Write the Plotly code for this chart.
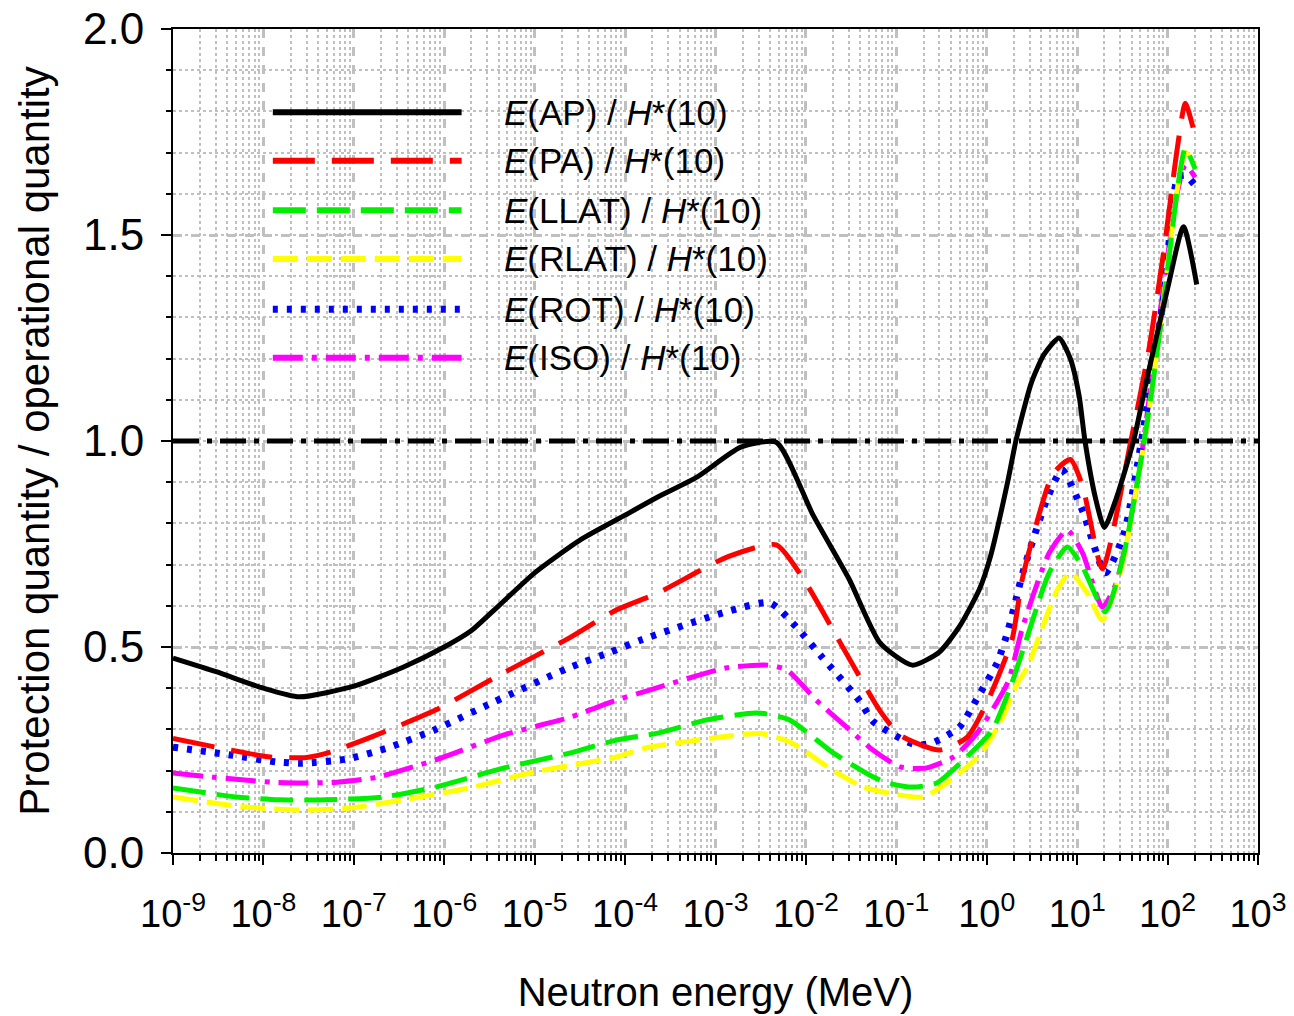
import numpy as np
import plotly.graph_objects as go

# ---------------- data ----------------
AP_E = [1e-9, 3e-9, 1e-8, 2.5e-8, 1e-7, 3.5e-7, 1e-6, 2e-6, 4e-6, 1e-5, 3.2e-5, 1e-4, 2.3e-4, 6.3e-4,
        1.9e-3, 4.7e-3, 1.2e-2, 3e-2, 6.6e-2, 0.15, 0.3, 0.5, 0.83, 1.1, 1.7, 2.1, 3.1, 4.3, 6.3, 8.4,
        10.5, 12.2, 16, 20, 27, 42, 59, 100, 150, 210]
AP_Y = [0.473, 0.44, 0.40, 0.379, 0.405, 0.451, 0.50, 0.54, 0.60, 0.68, 0.76, 0.82, 0.864, 0.913,
        0.985, 0.997, 0.82, 0.665, 0.51, 0.456, 0.488, 0.55, 0.64, 0.72, 0.90, 1.0, 1.14, 1.21, 1.25, 1.20,
        1.11, 1.0, 0.86, 0.79, 0.86, 1.0, 1.15, 1.37, 1.52, 1.38]

PA_E = [1e-9, 1.2e-8, 3e-8, 5.5e-8, 1.5e-7, 8e-7, 4.5e-6, 2.5e-5, 8e-5, 2.3e-4, 1.4e-3, 4.7e-3, 1e-2,
        2.4e-2, 6.6e-2, 0.11, 0.3, 0.6, 1.0, 1.9, 2.5, 5.4, 8.4, 11.5, 19, 38, 63, 92, 128, 157, 202]
PA_Y = [0.278, 0.233, 0.232, 0.245, 0.28, 0.347, 0.437, 0.524, 0.59, 0.631, 0.72, 0.748, 0.655,
        0.51, 0.345, 0.286, 0.25, 0.28, 0.364, 0.517, 0.67, 0.92, 0.955, 0.89, 0.69, 0.985, 1.23, 1.47,
        1.71, 1.82, 1.74]

LLAT_E = [1e-9, 5e-9, 1.5e-8, 5e-8, 2.1e-7, 8e-7, 4.5e-6, 2.5e-5, 8e-5, 2.3e-4, 8e-4, 2.9e-3, 6.6e-3,
          2e-2, 5.5e-2, 8e-2, 0.15, 0.28, 0.6, 1.15, 1.9, 2.8, 4.9, 7.8, 11.5, 20.5, 33, 60, 92, 130,
          157, 202]
LLAT_Y = [0.158, 0.136, 0.129, 0.129, 0.136, 0.16, 0.206, 0.243, 0.274, 0.291, 0.323, 0.34, 0.323,
          0.243, 0.185, 0.17, 0.16, 0.17, 0.233, 0.298, 0.413, 0.524, 0.68, 0.743, 0.694, 0.585, 0.728,
          1.05, 1.35, 1.62, 1.71, 1.66]

RLAT_E = [1e-9, 6e-9, 2.7e-8, 9e-8, 3.5e-7, 1.9e-6, 1e-5, 8e-5, 1.7e-4, 1.2e-3, 3.2e-3, 7e-3, 2e-2,
          4.3e-2, 8e-2, 0.2, 0.36, 0.8, 1.4, 2.2, 2.8, 6.0, 8.4, 13, 19, 31, 60, 92, 130, 157, 202]
RLAT_Y = [0.136, 0.112, 0.104, 0.109, 0.129, 0.158, 0.197, 0.233, 0.255, 0.282, 0.29, 0.267, 0.20,
          0.16, 0.146, 0.136, 0.17, 0.233, 0.315, 0.413, 0.45, 0.638, 0.68, 0.63, 0.565, 0.694, 1.05,
          1.36, 1.62, 1.70, 1.67]

ROT_E = [1e-9, 4.3e-9, 1.4e-8, 2.7e-8, 8.4e-8, 2.5e-7, 8e-7, 3.5e-6, 2.3e-5, 7e-5, 1.5e-4, 1.3e-3,
         4e-3, 7.8e-3, 1.5e-2, 4e-2, 5.5e-2, 0.12, 0.17, 0.25, 0.5, 0.8, 1.3, 1.7, 2.1, 2.5, 4.6, 6.8,
         11.5, 20.5, 33, 60, 92, 130, 157, 202]
ROT_Y = [0.257, 0.238, 0.221, 0.218, 0.228, 0.257, 0.30, 0.366, 0.448, 0.488, 0.517, 0.585,
         0.607, 0.549, 0.476, 0.367, 0.32, 0.274, 0.262, 0.267, 0.306, 0.379, 0.461, 0.536, 0.614, 0.68,
         0.857, 0.93, 0.83, 0.68, 0.776, 1.09, 1.36, 1.64, 1.645, 1.62]

ISO_E = [1e-9, 2.8e-9, 1.2e-8, 2.7e-8, 6.5e-8, 1.8e-7, 8e-7, 4.5e-6, 2.5e-5, 8e-5, 1.9e-4, 1.3e-3,
         3.8e-3, 6.2e-3, 1.3e-2, 2.8e-2, 5.5e-2, 0.11, 0.21, 0.43, 0.8, 1.7, 2.5, 4.9, 7.8, 11.5, 19,
         27, 47, 92, 130, 157, 202]
ISO_Y = [0.194, 0.184, 0.172, 0.17, 0.172, 0.184, 0.226, 0.286, 0.33, 0.371, 0.396, 0.449,
         0.456, 0.444, 0.371, 0.306, 0.25, 0.209, 0.206, 0.233, 0.294, 0.413, 0.549, 0.728, 0.784, 0.728,
         0.597, 0.655, 0.905, 1.39, 1.61, 1.67, 1.64]

X_TICKS = [1e-9, 1e-8, 1e-7, 1e-6, 1e-5, 1e-4, 1e-3, 1e-2, 1e-1, 1e0, 1e1, 1e2, 1e3]
X_TICKTEXT = ["10<sup>-9</sup>", "10<sup>-8</sup>", "10<sup>-7</sup>", "10<sup>-6</sup>", "10<sup>-5</sup>",
              "10<sup>-4</sup>", "10<sup>-3</sup>", "10<sup>-2</sup>", "10<sup>-1</sup>", "10<sup>0</sup>",
              "10<sup>1</sup>", "10<sup>2</sup>", "10<sup>3</sup>"]
Y_TICKS = [0.0, 0.5, 1.0, 1.5, 2.0]
Y_TICKTEXT = ["0.0", "0.5", "1.0", "1.5", "2.0"]
REF_LEVEL = 1.0

series = [
    ("<i>E</i>(AP) / <i>H</i>*(10)", AP_E, AP_Y, "#000000", "solid", 5),
    ("<i>E</i>(PA) / <i>H</i>*(10)", PA_E, PA_Y, "#ff0000", "42px,17px", 5),
    ("<i>E</i>(LLAT) / <i>H</i>*(10)", LLAT_E, LLAT_Y, "#00ee00", "33px,11px", 5),
    ("<i>E</i>(RLAT) / <i>H</i>*(10)", RLAT_E, RLAT_Y, "#ffff00", "25px,9px", 5),
    ("<i>E</i>(ROT) / <i>H</i>*(10)", ROT_E, ROT_Y, "#0000ff", "5px,9px", 7),
    ("<i>E</i>(ISO) / <i>H</i>*(10)", ISO_E, ISO_Y, "#ff00ff", "30px,9px,5px,9px", 5),
]

FONT = "Liberation Sans, Arial, sans-serif"
GRID = "#c0c0c0"

fig = go.Figure()

# reference line at 1.0
fig.add_trace(go.Scatter(x=[X_TICKS[0], X_TICKS[-1]], y=[REF_LEVEL, REF_LEVEL], mode="lines",
                         line=dict(color="black", width=5, dash="26px,8px,5px,8px"),
                         showlegend=False, hoverinfo="skip"))

# draw from back to front so black stays visible
order = [5, 4, 3, 2, 1, 0]
for i in order:
    name, xs, ys, col, dash, w = series[i]
    fig.add_trace(go.Scatter(x=xs, y=ys, mode="lines", name=name,
                             line=dict(color=col, width=w, dash=dash, shape="spline", smoothing=0.6),
                             showlegend=False))

# custom legend (long sample lines like the original)
leg_y = [0.899, 0.840, 0.780, 0.721, 0.660, 0.601]
for (name, xs, ys, col, dash, w), ly in zip(series, leg_y):
    fig.add_shape(type="line", xref="paper", yref="paper", x0=0.092, x1=0.266, y0=ly, y1=ly,
                  line=dict(color=col, width=w + 1 if w < 7 else w, dash=dash))
    fig.add_annotation(xref="paper", yref="paper", x=0.303, y=ly, text=name, showarrow=False,
                       xanchor="left", yanchor="middle", font=dict(size=35, color="black", family=FONT))

minor_x = [k * 10.0 ** n for n in range(-9, 3) for k in range(2, 10)]

fig.update_layout(
    width=1294, height=1016,
    margin=dict(l=173, r=36, t=29, b=163),
    paper_bgcolor="white", plot_bgcolor="white",
    font=dict(family=FONT, color="black"),
    showlegend=False,
)

fig.update_xaxes(
    type="log", range=[-9, 3], automargin=False,
    tickmode="array", tickvals=X_TICKS, ticktext=X_TICKTEXT,
    tickfont=dict(size=38), ticks="outside", ticklen=10, tickwidth=2, tickcolor="black",
    ticklabelstandoff=16, ticklabeloverflow="allow",
    showline=True, linecolor="black", linewidth=2, mirror=True,
    showgrid=True, gridcolor=GRID, gridwidth=3, griddash="dash",
    minor=dict(tickmode="array", tickvals=minor_x, ticks="outside", ticklen=6, tickwidth=1.5,
               tickcolor="black", showgrid=True, gridcolor=GRID, gridwidth=2, griddash="dot"),
    title=dict(text="Neutron energy (MeV)", font=dict(size=40), standoff=44),
    zeroline=False,
)
fig.update_yaxes(
    range=[0, 2], automargin=False, tickmode="array", tickvals=Y_TICKS, ticktext=Y_TICKTEXT,
    tickfont=dict(size=44), ticks="outside", ticklen=10, tickwidth=2, tickcolor="black",
    ticklabelstandoff=8, ticklabeloverflow="allow",
    showline=True, linecolor="black", linewidth=2, mirror=True,
    showgrid=True, gridcolor=GRID, gridwidth=3, griddash="dash",
    minor=dict(tickmode="linear", tick0=0, dtick=0.1, ticks="outside", ticklen=5, tickwidth=1.5,
               tickcolor="black", showgrid=True, gridcolor=GRID, gridwidth=2, griddash="dot"),
    title=dict(text="Protection quantity / operational quantity", font=dict(size=42), standoff=20),
    zeroline=False,
)

fig.write_html("out.html", config={"displayModeBar": False},
               post_script="document.body.style.margin='0';")
